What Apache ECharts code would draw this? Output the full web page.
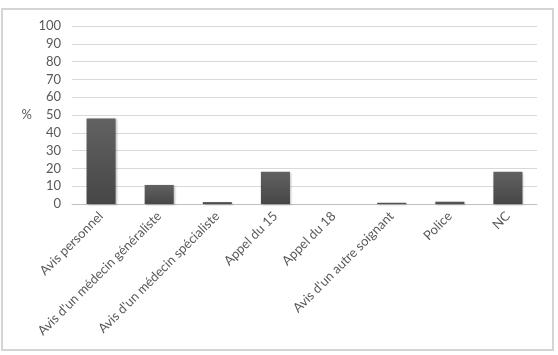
<!DOCTYPE html>
<html><head><meta charset="utf-8">
<script src="https://cdn.jsdelivr.net/npm/echarts@6/dist/echarts.min.js"></script>
<style>html,body{margin:0;padding:0;background:#fff}#c{width:558px;height:355px}</style>
</head><body><div id="c"></div>
<script>
const categories = ["Avis personnel","Avis d'un médecin généraliste","Avis d'un médecin spécialiste","Appel du 15","Appel du 18","Avis d'un autre soignant","Police","NC"];
const values = [48.1, 10.7, 1.1, 18.1, 0, 0.7, 1.3, 18.1];
const yTicks = {min: 0, max: 100, interval: 10};
const font = 'Lato, "Open Sans", sans-serif';
const chart = echarts.init(document.getElementById('c'), null, {renderer: 'canvas'});
chart.setOption({
  animation: false,
  backgroundColor: '#fff',
  graphic: [{type: 'rect', shape: {x: 2, y: 9, width: 551, height: 341}, style: {fill: 'none', stroke: '#d4d4d4', lineWidth: 2}, silent: true}],
  grid: {left: 72, right: 21, top: 26, bottom: 151},
  xAxis: {
    type: 'category', data: categories,
    axisLine: {lineStyle: {color: '#bfbfbf'}},
    axisTick: {show: false},
    axisLabel: {rotate: 45, interval: 0, color: '#595959', fontFamily: font, fontSize: 13, margin: 10}
  },
  yAxis: {
    type: 'value', min: yTicks.min, max: yTicks.max, interval: yTicks.interval,
    name: '%', nameLocation: 'middle', nameRotate: 0, nameGap: 40,
    nameTextStyle: {color: '#595959', fontFamily: font, fontSize: 13},
    axisLine: {show: false}, axisTick: {show: false},
    axisLabel: {color: '#595959', fontFamily: font, fontSize: 13, margin: 11},
    splitLine: {lineStyle: {color: '#d9d9d9'}}
  },
  series: [{
    type: 'bar', data: values, barWidth: '50%',
    itemStyle: {
      color: new echarts.graphic.LinearGradient(0, 0, 0, 1, [{offset: 0, color: '#626262'}, {offset: 1, color: '#464646'}]),
      shadowColor: 'rgba(0,0,0,0.25)', shadowBlur: 2, shadowOffsetX: 1, shadowOffsetY: 1
    }
  }]
});
</script></body></html>
